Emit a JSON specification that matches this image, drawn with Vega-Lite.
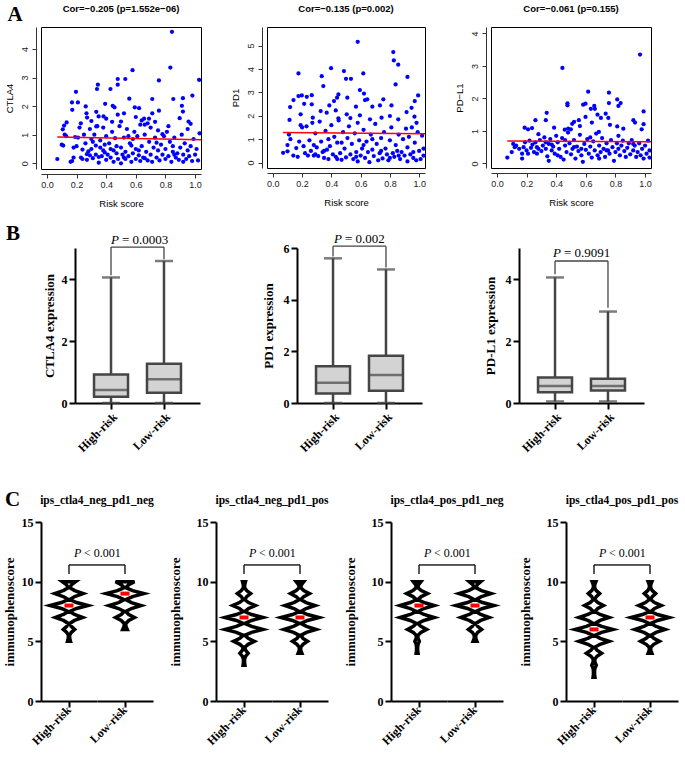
{
"$schema": "https://vega.github.io/schema/vega-lite/v6.json",
"padding": {"left": 3, "top": 3, "right": 0, "bottom": 0},
"config": {
 "view": {"stroke": null},
 "axis": {"grid": false, "domainColor": "black", "domainWidth": 2, "tickColor": "black", "tickWidth": 2, "tickSize": 6, "labelFont": "Liberation Serif", "labelFontWeight": "bold", "labelFontSize": 12, "labelColor": "black", "titleFont": "Liberation Serif", "titleFontWeight": "bold", "titleFontSize": 13, "titleColor": "black"},
 "header": {"labelOrient": "bottom", "labelAngle": -45, "labelAlign": "right", "labelBaseline": "middle", "labelFont": "Liberation Serif", "labelFontWeight": "bold", "labelFontSize": 12, "labelColor": "black", "labelPadding": 0, "titleOrient": "top", "titleFont": "Liberation Serif", "titleFontWeight": "bold", "titleFontSize": 11.5, "titleColor": "black", "titlePadding": 6}
},
"datasets": {
 "ctla4": [
  {"x":0.844,"y":4.6},{"x":0.578,"y":3.26},{"x":0.833,"y":3.35},{"x":0.478,"y":2.95},{"x":0.529,"y":2.95},{"x":0.756,"y":2.9},{"x":1.027,"y":2.92},{"x":0.344,"y":2.75},{"x":0.338,"y":2.6},{"x":0.429,"y":2.6},{"x":0.478,"y":2.75},{"x":0.196,"y":2.5},{"x":0.209,"y":2.13},{"x":0.169,"y":2.13},{"x":0.556,"y":2.26},{"x":0.711,"y":2.25},{"x":0.853,"y":2.25},{"x":0.982,"y":2.37},{"x":0.918,"y":2.28},{"x":0.393,"y":2.08},{"x":0.444,"y":2.01},{"x":0.456,"y":1.96},{"x":0.262,"y":1.99},{"x":0.171,"y":1.87},{"x":0.593,"y":1.96},{"x":0.622,"y":1.93},{"x":0.911,"y":2.01},{"x":0.918,"y":1.81},{"x":0.333,"y":1.8},{"x":0.267,"y":1.75},{"x":0.756,"y":1.84},{"x":0.711,"y":1.75},{"x":0.656,"y":1.56},{"x":0.689,"y":1.56},{"x":0.382,"y":1.64},{"x":0.4,"y":1.56},{"x":0.478,"y":1.7},{"x":0.5,"y":1.46},{"x":0.133,"y":1.43},{"x":0.116,"y":1.32},{"x":0.107,"y":1.19},{"x":0.229,"y":1.4},{"x":0.271,"y":1.6},{"x":0.349,"y":1.64},{"x":0.333,"y":1.29},{"x":0.956,"y":1.46},{"x":0.896,"y":1.58},{"x":0.52,"y":1.75},{"x":0.6,"y":1.62},{"x":0.64,"y":1.5},{"x":0.73,"y":1.45},{"x":0.66,"y":1.35},{"x":0.44,"y":1.45},{"x":0.3,"y":1.48},{"x":0.82,"y":1.3},{"x":0.97,"y":1.38},
  {"x":0.07,"y":0.15},{"x":0.1,"y":0.65},{"x":0.11,"y":0.62},{"x":0.12,"y":1.0},{"x":0.13,"y":0.95},{"x":0.16,"y":0.05},{"x":0.17,"y":0.08},{"x":0.18,"y":0.2},{"x":0.18,"y":0.55},{"x":0.19,"y":0.92},{"x":0.2,"y":0.6},{"x":0.21,"y":0.9},{"x":0.22,"y":1.25},{"x":0.23,"y":0.2},{"x":0.24,"y":0.48},{"x":0.24,"y":0.15},{"x":0.25,"y":1.0},{"x":0.26,"y":0.7},{"x":0.27,"y":0.12},{"x":0.28,"y":0.42},{"x":0.29,"y":1.2},{"x":0.29,"y":0.28},{"x":0.3,"y":0.85},{"x":0.3,"y":0.5},{"x":0.31,"y":0.18},{"x":0.32,"y":1.0},{"x":0.33,"y":0.3},{"x":0.33,"y":0.62},{"x":0.34,"y":1.3},{"x":0.35,"y":0.02},{"x":0.35,"y":0.22},{"x":0.36,"y":0.8},{"x":0.37,"y":0.25},{"x":0.38,"y":0.45},{"x":0.38,"y":1.25},{"x":0.39,"y":0.38},{"x":0.4,"y":0.12},{"x":0.4,"y":0.95},{"x":0.41,"y":0.3},{"x":0.42,"y":0.7},{"x":0.43,"y":0.2},{"x":0.44,"y":1.1},{"x":0.45,"y":0.45},{"x":0.45,"y":0.05},{"x":0.46,"y":0.88},{"x":0.47,"y":0.35},{"x":0.48,"y":0.15},{"x":0.49,"y":1.3},{"x":0.5,"y":0.0},{"x":0.5,"y":0.55},{"x":0.51,"y":0.3},{"x":0.52,"y":0.9},{"x":0.53,"y":0.15},{"x":0.53,"y":0.4},{"x":0.54,"y":1.2},{"x":0.55,"y":0.25},{"x":0.56,"y":0.7},{"x":0.57,"y":0.05},{"x":0.58,"y":0.85},{"x":0.58,"y":0.35},{"x":0.59,"y":1.1},{"x":0.6,"y":0.15},{"x":0.6,"y":0.5},{"x":0.61,"y":0.95},{"x":0.62,"y":0.28},{"x":0.63,"y":1.35},{"x":0.63,"y":0.08},{"x":0.64,"y":0.6},{"x":0.65,"y":0.2},{"x":0.66,"y":1.0},{"x":0.67,"y":0.4},{"x":0.68,"y":0.1},{"x":0.69,"y":0.75},{"x":0.7,"y":1.25},{"x":0.7,"y":0.3},{"x":0.71,"y":0.05},{"x":0.72,"y":0.55},{"x":0.73,"y":0.9},{"x":0.74,"y":0.2},{"x":0.75,"y":0.45},{"x":0.75,"y":1.15},{"x":0.76,"y":0.1},{"x":0.77,"y":0.65},{"x":0.78,"y":0.3},{"x":0.79,"y":0.95},{"x":0.8,"y":0.15},{"x":0.8,"y":0.5},{"x":0.81,"y":1.1},{"x":0.82,"y":0.25},{"x":0.83,"y":0.75},{"x":0.84,"y":0.05},{"x":0.85,"y":0.4},{"x":0.85,"y":0.6},{"x":0.86,"y":0.9},{"x":0.87,"y":0.2},{"x":0.88,"y":0.35},{"x":0.89,"y":0.12},{"x":0.9,"y":0.55},{"x":0.91,"y":1.0},{"x":0.92,"y":0.3},{"x":0.92,"y":0.05},{"x":0.93,"y":0.7},{"x":0.94,"y":0.15},{"x":0.95,"y":0.45},{"x":0.95,"y":1.2},{"x":0.96,"y":0.25},{"x":0.97,"y":0.6},{"x":0.98,"y":0.08},{"x":0.99,"y":0.85},{"x":1.0,"y":0.3},{"x":1.01,"y":0.5},{"x":1.02,"y":0.1},{"x":1.03,"y":1.05},{"x":0.39,"y":0.65},{"x":0.47,"y":0.6},{"x":0.55,"y":0.95},{"x":0.62,"y":0.45},{"x":0.68,"y":1.4},{"x":0.43,"y":0.5},{"x":0.31,"y":0.75},{"x":0.57,"y":0.62},{"x":0.74,"y":0.72},{"x":0.86,"y":0.3},{"x":0.27,"y":0.32},{"x":0.36,"y":0.55},{"x":0.52,"y":0.2},{"x":0.66,"y":0.18},{"x":0.78,"y":1.02}
 ],
 "pd1": [
  {"x":0.58,"y":5.16},{"x":0.823,"y":4.72},{"x":0.827,"y":4.36},{"x":0.857,"y":4.18},{"x":0.398,"y":4.03},{"x":0.175,"y":3.81},{"x":0.618,"y":3.81},{"x":0.486,"y":3.91},{"x":0.334,"y":3.69},{"x":0.5,"y":3.58},{"x":0.534,"y":3.58},{"x":0.92,"y":3.66},{"x":0.345,"y":3.27},{"x":0.839,"y":3.34},{"x":0.595,"y":3.1},{"x":0.623,"y":2.95},{"x":0.198,"y":2.87},{"x":0.175,"y":2.84},{"x":0.232,"y":2.81},{"x":0.266,"y":2.88},{"x":0.448,"y":2.91},{"x":0.993,"y":2.87},{"x":0.141,"y":2.67},{"x":0.755,"y":2.7},{"x":0.509,"y":2.77},{"x":0.439,"y":2.77},{"x":0.418,"y":2.63},{"x":0.63,"y":2.67},{"x":0.645,"y":2.7},{"x":0.97,"y":2.63},{"x":0.118,"y":2.37},{"x":0.266,"y":2.49},{"x":0.214,"y":2.51},{"x":0.386,"y":2.44},{"x":0.68,"y":2.39},{"x":0.732,"y":2.44},{"x":0.811,"y":2.44},{"x":0.568,"y":2.39},{"x":0.914,"y":2.16},{"x":0.948,"y":2.34},{"x":0.327,"y":2.2},{"x":0.368,"y":2.13},{"x":0.43,"y":2.23},{"x":0.505,"y":2.06},{"x":0.19,"y":2.06},{"x":0.8,"y":1.99},{"x":0.273,"y":1.92},{"x":0.595,"y":2.02},{"x":0.743,"y":1.92},{"x":0.968,"y":1.96},{"x":0.114,"y":1.82},{"x":0.448,"y":1.89},{"x":0.664,"y":1.85},{"x":0.857,"y":1.85},{"x":0.982,"y":1.7},
  {"x":0.07,"y":0.42},{"x":0.1,"y":0.75},{"x":0.1,"y":0.48},{"x":0.11,"y":1.2},{"x":0.12,"y":1.0},{"x":0.14,"y":0.3},{"x":0.16,"y":0.62},{"x":0.17,"y":0.25},{"x":0.18,"y":0.9},{"x":0.19,"y":1.6},{"x":0.2,"y":1.5},{"x":0.21,"y":0.7},{"x":0.22,"y":0.4},{"x":0.23,"y":1.55},{"x":0.24,"y":0.3},{"x":0.25,"y":0.95},{"x":0.26,"y":0.5},{"x":0.27,"y":1.7},{"x":0.28,"y":0.75},{"x":0.28,"y":0.3},{"x":0.29,"y":1.25},{"x":0.3,"y":0.65},{"x":0.31,"y":0.28},{"x":0.32,"y":1.75},{"x":0.33,"y":0.9},{"x":0.34,"y":0.45},{"x":0.35,"y":0.2},{"x":0.36,"y":1.35},{"x":0.37,"y":0.55},{"x":0.38,"y":1.0},{"x":0.38,"y":0.15},{"x":0.39,"y":0.7},{"x":0.4,"y":1.6},{"x":0.41,"y":0.35},{"x":0.42,"y":1.1},{"x":0.43,"y":0.25},{"x":0.44,"y":0.85},{"x":0.45,"y":1.8},{"x":0.46,"y":0.4},{"x":0.47,"y":0.12},{"x":0.48,"y":1.3},{"x":0.49,"y":0.6},{"x":0.5,"y":0.22},{"x":0.51,"y":1.05},{"x":0.52,"y":1.55},{"x":0.53,"y":0.35},{"x":0.54,"y":0.8},{"x":0.55,"y":0.15},{"x":0.56,"y":1.25},{"x":0.57,"y":0.45},{"x":0.58,"y":0.05},{"x":0.58,"y":1.7},{"x":0.59,"y":0.95},{"x":0.6,"y":0.3},{"x":0.61,"y":0.6},{"x":0.62,"y":1.4},{"x":0.63,"y":0.2},{"x":0.64,"y":0.9},{"x":0.65,"y":0.45},{"x":0.66,"y":0.02},{"x":0.67,"y":1.2},{"x":0.68,"y":0.55},{"x":0.69,"y":0.28},{"x":0.7,"y":1.65},{"x":0.71,"y":0.8},{"x":0.72,"y":0.1},{"x":0.73,"y":0.4},{"x":0.74,"y":1.05},{"x":0.75,"y":0.18},{"x":0.76,"y":1.3},{"x":0.77,"y":0.6},{"x":0.78,"y":0.35},{"x":0.79,"y":0.1},{"x":0.8,"y":0.95},{"x":0.81,"y":1.5},{"x":0.82,"y":0.4},{"x":0.83,"y":0.25},{"x":0.84,"y":0.75},{"x":0.85,"y":0.5},{"x":0.86,"y":1.2},{"x":0.87,"y":0.15},{"x":0.88,"y":0.45},{"x":0.89,"y":1.0},{"x":0.9,"y":0.3},{"x":0.91,"y":1.45},{"x":0.92,"y":0.05},{"x":0.92,"y":0.65},{"x":0.93,"y":1.1},{"x":0.94,"y":0.35},{"x":0.95,"y":1.5},{"x":0.96,"y":0.2},{"x":0.97,"y":0.85},{"x":0.98,"y":0.1},{"x":0.99,"y":1.3},{"x":1.0,"y":0.5},{"x":1.01,"y":0.15},{"x":1.02,"y":1.15},{"x":1.03,"y":0.3},{"x":1.03,"y":0.6},{"x":0.35,"y":0.5},{"x":0.47,"y":0.85},{"x":0.53,"y":1.9},{"x":0.62,"y":0.75},{"x":0.74,"y":0.5},{"x":0.86,"y":0.3},{"x":0.44,"y":0.15},{"x":0.29,"y":0.35},{"x":0.57,"y":0.25},{"x":0.68,"y":1.0},{"x":0.8,"y":0.2},{"x":0.96,"y":0.45}
 ],
 "pdl1": [
  {"x":0.966,"y":3.35},{"x":0.442,"y":2.94},{"x":0.616,"y":2.21},{"x":0.756,"y":2.18},{"x":0.476,"y":1.85},{"x":0.476,"y":1.79},{"x":0.582,"y":1.81},{"x":0.598,"y":1.84},{"x":0.756,"y":1.86},{"x":0.812,"y":1.97},{"x":0.835,"y":1.86},{"x":0.82,"y":1.77},{"x":0.634,"y":1.68},{"x":0.657,"y":1.77},{"x":0.661,"y":1.68},{"x":0.99,"y":1.6},{"x":0.336,"y":1.56},{"x":0.598,"y":1.43},{"x":0.679,"y":1.5},{"x":0.734,"y":1.53},{"x":0.752,"y":1.4},{"x":0.26,"y":1.33},{"x":0.33,"y":1.33},{"x":0.521,"y":1.28},{"x":0.508,"y":1.22},{"x":0.553,"y":1.33},{"x":0.641,"y":1.26},{"x":0.56,"y":1.15},{"x":0.702,"y":1.4},{"x":0.921,"y":1.33},{"x":0.932,"y":1.26},{"x":0.763,"y":1.19},{"x":0.99,"y":1.21},{"x":0.812,"y":1.14},{"x":0.187,"y":1.1},{"x":0.21,"y":1.05},{"x":0.237,"y":1.09},{"x":0.386,"y":1.1},{"x":0.481,"y":1.07},{"x":0.458,"y":1.04},{"x":0.499,"y":1.05},{"x":0.688,"y":0.97},{"x":0.853,"y":1.07},{"x":0.977,"y":1.05},
  {"x":0.07,"y":0.18},{"x":0.1,"y":0.35},{"x":0.11,"y":0.6},{"x":0.12,"y":0.5},{"x":0.13,"y":0.55},{"x":0.15,"y":0.45},{"x":0.17,"y":0.15},{"x":0.17,"y":0.3},{"x":0.18,"y":0.5},{"x":0.19,"y":0.65},{"x":0.2,"y":0.4},{"x":0.21,"y":0.3},{"x":0.22,"y":0.7},{"x":0.23,"y":0.48},{"x":0.24,"y":0.58},{"x":0.25,"y":0.35},{"x":0.26,"y":0.65},{"x":0.27,"y":0.3},{"x":0.28,"y":0.9},{"x":0.28,"y":0.45},{"x":0.29,"y":0.72},{"x":0.3,"y":0.38},{"x":0.31,"y":0.55},{"x":0.32,"y":0.8},{"x":0.33,"y":0.45},{"x":0.34,"y":0.22},{"x":0.35,"y":0.6},{"x":0.35,"y":0.08},{"x":0.36,"y":0.75},{"x":0.37,"y":0.4},{"x":0.38,"y":0.52},{"x":0.39,"y":0.3},{"x":0.4,"y":0.85},{"x":0.41,"y":0.65},{"x":0.42,"y":0.45},{"x":0.43,"y":0.2},{"x":0.44,"y":0.78},{"x":0.45,"y":0.12},{"x":0.46,"y":0.55},{"x":0.47,"y":0.35},{"x":0.48,"y":0.95},{"x":0.49,"y":0.62},{"x":0.5,"y":0.28},{"x":0.51,"y":0.45},{"x":0.52,"y":0.72},{"x":0.53,"y":0.15},{"x":0.54,"y":0.52},{"x":0.55,"y":0.38},{"x":0.56,"y":0.88},{"x":0.57,"y":0.25},{"x":0.58,"y":0.05},{"x":0.59,"y":0.6},{"x":0.6,"y":0.42},{"x":0.61,"y":0.75},{"x":0.62,"y":0.3},{"x":0.63,"y":0.52},{"x":0.64,"y":0.18},{"x":0.65,"y":0.68},{"x":0.66,"y":0.4},{"x":0.67,"y":0.92},{"x":0.68,"y":0.25},{"x":0.69,"y":0.55},{"x":0.7,"y":0.35},{"x":0.71,"y":0.78},{"x":0.72,"y":0.45},{"x":0.73,"y":0.2},{"x":0.74,"y":0.62},{"x":0.75,"y":0.4},{"x":0.76,"y":0.3},{"x":0.77,"y":0.72},{"x":0.78,"y":0.5},{"x":0.79,"y":0.08},{"x":0.8,"y":0.35},{"x":0.81,"y":0.62},{"x":0.82,"y":0.45},{"x":0.83,"y":0.25},{"x":0.84,"y":0.55},{"x":0.85,"y":0.7},{"x":0.86,"y":0.38},{"x":0.87,"y":0.2},{"x":0.88,"y":0.48},{"x":0.89,"y":0.62},{"x":0.9,"y":0.28},{"x":0.91,"y":0.72},{"x":0.92,"y":0.4},{"x":0.93,"y":0.55},{"x":0.94,"y":0.2},{"x":0.95,"y":0.35},{"x":0.96,"y":0.62},{"x":0.97,"y":0.25},{"x":0.98,"y":0.45},{"x":0.99,"y":0.15},{"x":1.0,"y":0.55},{"x":1.01,"y":0.3},{"x":1.02,"y":0.7},{"x":1.03,"y":0.18},{"x":1.03,"y":0.4},{"x":0.41,"y":0.25},{"x":0.52,"y":0.5},{"x":0.63,"y":0.8},{"x":0.74,"y":0.4},{"x":0.33,"y":0.65},{"x":0.46,"y":0.72},{"x":0.57,"y":0.45},{"x":0.69,"y":0.15},{"x":0.82,"y":0.85},{"x":0.92,"y":0.6},{"x":0.27,"y":0.5},{"x":0.37,"y":0.58}
 ],
 "c1": [
  {"g":"High-risk","s":5,"d":0.08},{"g":"High-risk","s":5.25,"d":0.04},{"g":"High-risk","s":5.5,"d":0.03},{"g":"High-risk","s":5.75,"d":0.12},{"g":"High-risk","s":6,"d":0.3},{"g":"High-risk","s":6.25,"d":0.12},{"g":"High-risk","s":6.5,"d":0.04},{"g":"High-risk","s":6.75,"d":0.29},{"g":"High-risk","s":7,"d":0.72},{"g":"High-risk","s":7.25,"d":0.29},{"g":"High-risk","s":7.5,"d":0.04},{"g":"High-risk","s":7.75,"d":0.4},{"g":"High-risk","s":8,"d":1.0},{"g":"High-risk","s":8.25,"d":0.4},{"g":"High-risk","s":8.5,"d":0.04},{"g":"High-risk","s":8.75,"d":0.3},{"g":"High-risk","s":9,"d":0.75},{"g":"High-risk","s":9.25,"d":0.3},{"g":"High-risk","s":9.5,"d":0.04},{"g":"High-risk","s":9.75,"d":0.14},{"g":"High-risk","s":10,"d":0.35},
  {"g":"Low-risk","s":6,"d":0.12},{"g":"Low-risk","s":6.25,"d":0.05},{"g":"Low-risk","s":6.5,"d":0.04},{"g":"Low-risk","s":6.75,"d":0.2},{"g":"Low-risk","s":7,"d":0.5},{"g":"Low-risk","s":7.25,"d":0.2},{"g":"Low-risk","s":7.5,"d":0.04},{"g":"Low-risk","s":7.75,"d":0.34},{"g":"Low-risk","s":8,"d":0.85},{"g":"Low-risk","s":8.25,"d":0.34},{"g":"Low-risk","s":8.5,"d":0.04},{"g":"Low-risk","s":8.75,"d":0.4},{"g":"Low-risk","s":9,"d":1.0},{"g":"Low-risk","s":9.25,"d":0.4},{"g":"Low-risk","s":9.5,"d":0.04},{"g":"Low-risk","s":9.75,"d":0.2},{"g":"Low-risk","s":10,"d":0.5},
  {"g":"High-risk","md":8,"q1":7,"q3":9},{"g":"Low-risk","md":9,"q1":8,"q3":9}
 ],
 "c2": [
  {"g":"High-risk","s":3,"d":0.05},{"g":"High-risk","s":3.25,"d":0.03},{"g":"High-risk","s":3.5,"d":0.03},{"g":"High-risk","s":3.75,"d":0.09},{"g":"High-risk","s":4,"d":0.22},{"g":"High-risk","s":4.25,"d":0.09},{"g":"High-risk","s":4.5,"d":0.04},{"g":"High-risk","s":4.75,"d":0.22},{"g":"High-risk","s":5,"d":0.55},{"g":"High-risk","s":5.25,"d":0.22},{"g":"High-risk","s":5.5,"d":0.04},{"g":"High-risk","s":5.75,"d":0.4},{"g":"High-risk","s":6,"d":1.0},{"g":"High-risk","s":6.25,"d":0.4},{"g":"High-risk","s":6.5,"d":0.04},{"g":"High-risk","s":6.75,"d":0.4},{"g":"High-risk","s":7,"d":1.0},{"g":"High-risk","s":7.25,"d":0.4},{"g":"High-risk","s":7.5,"d":0.04},{"g":"High-risk","s":7.75,"d":0.24},{"g":"High-risk","s":8,"d":0.6},{"g":"High-risk","s":8.25,"d":0.24},{"g":"High-risk","s":8.5,"d":0.04},{"g":"High-risk","s":8.75,"d":0.14},{"g":"High-risk","s":9,"d":0.35},{"g":"High-risk","s":9.25,"d":0.14},{"g":"High-risk","s":9.5,"d":0.03},{"g":"High-risk","s":9.75,"d":0.04},{"g":"High-risk","s":10,"d":0.08},
  {"g":"Low-risk","s":4,"d":0.1},{"g":"Low-risk","s":4.25,"d":0.04},{"g":"Low-risk","s":4.5,"d":0.04},{"g":"Low-risk","s":4.75,"d":0.16},{"g":"Low-risk","s":5,"d":0.4},{"g":"Low-risk","s":5.25,"d":0.16},{"g":"Low-risk","s":5.5,"d":0.04},{"g":"Low-risk","s":5.75,"d":0.34},{"g":"Low-risk","s":6,"d":0.85},{"g":"Low-risk","s":6.25,"d":0.34},{"g":"Low-risk","s":6.5,"d":0.04},{"g":"Low-risk","s":6.75,"d":0.4},{"g":"Low-risk","s":7,"d":1.0},{"g":"Low-risk","s":7.25,"d":0.4},{"g":"Low-risk","s":7.5,"d":0.04},{"g":"Low-risk","s":7.75,"d":0.32},{"g":"Low-risk","s":8,"d":0.8},{"g":"Low-risk","s":8.25,"d":0.32},{"g":"Low-risk","s":8.5,"d":0.04},{"g":"Low-risk","s":8.75,"d":0.2},{"g":"Low-risk","s":9,"d":0.5},{"g":"Low-risk","s":9.25,"d":0.2},{"g":"Low-risk","s":9.5,"d":0.04},{"g":"Low-risk","s":9.75,"d":0.08},{"g":"Low-risk","s":10,"d":0.2},
  {"g":"High-risk","md":7,"q1":6,"q3":7},{"g":"Low-risk","md":7,"q1":6,"q3":8}
 ],
 "c3": [
  {"g":"High-risk","s":4,"d":0.05},{"g":"High-risk","s":4.25,"d":0.03},{"g":"High-risk","s":4.5,"d":0.03},{"g":"High-risk","s":4.75,"d":0.05},{"g":"High-risk","s":5,"d":0.12},{"g":"High-risk","s":5.25,"d":0.05},{"g":"High-risk","s":5.5,"d":0.04},{"g":"High-risk","s":5.75,"d":0.2},{"g":"High-risk","s":6,"d":0.5},{"g":"High-risk","s":6.25,"d":0.2},{"g":"High-risk","s":6.5,"d":0.04},{"g":"High-risk","s":6.75,"d":0.36},{"g":"High-risk","s":7,"d":0.9},{"g":"High-risk","s":7.25,"d":0.36},{"g":"High-risk","s":7.5,"d":0.04},{"g":"High-risk","s":7.75,"d":0.36},{"g":"High-risk","s":8,"d":0.9},{"g":"High-risk","s":8.25,"d":0.36},{"g":"High-risk","s":8.5,"d":0.04},{"g":"High-risk","s":8.75,"d":0.22},{"g":"High-risk","s":9,"d":0.55},{"g":"High-risk","s":9.25,"d":0.22},{"g":"High-risk","s":9.5,"d":0.04},{"g":"High-risk","s":9.75,"d":0.08},{"g":"High-risk","s":10,"d":0.2},
  {"g":"Low-risk","s":5,"d":0.1},{"g":"Low-risk","s":5.25,"d":0.04},{"g":"Low-risk","s":5.5,"d":0.04},{"g":"Low-risk","s":5.75,"d":0.14},{"g":"Low-risk","s":6,"d":0.35},{"g":"Low-risk","s":6.25,"d":0.14},{"g":"Low-risk","s":6.5,"d":0.04},{"g":"Low-risk","s":6.75,"d":0.3},{"g":"Low-risk","s":7,"d":0.75},{"g":"Low-risk","s":7.25,"d":0.3},{"g":"Low-risk","s":7.5,"d":0.04},{"g":"Low-risk","s":7.75,"d":0.4},{"g":"Low-risk","s":8,"d":1.0},{"g":"Low-risk","s":8.25,"d":0.4},{"g":"Low-risk","s":8.5,"d":0.04},{"g":"Low-risk","s":8.75,"d":0.34},{"g":"Low-risk","s":9,"d":0.85},{"g":"Low-risk","s":9.25,"d":0.34},{"g":"Low-risk","s":9.5,"d":0.04},{"g":"Low-risk","s":9.75,"d":0.12},{"g":"Low-risk","s":10,"d":0.3},
  {"g":"High-risk","md":8,"q1":7,"q3":8},{"g":"Low-risk","md":8,"q1":7,"q3":9}
 ],
 "c4": [
  {"g":"High-risk","s":2,"d":0.05},{"g":"High-risk","s":2.25,"d":0.03},{"g":"High-risk","s":2.5,"d":0.03},{"g":"High-risk","s":2.75,"d":0.05},{"g":"High-risk","s":3,"d":0.12},{"g":"High-risk","s":3.25,"d":0.05},{"g":"High-risk","s":3.5,"d":0.04},{"g":"High-risk","s":3.75,"d":0.16},{"g":"High-risk","s":4,"d":0.4},{"g":"High-risk","s":4.25,"d":0.16},{"g":"High-risk","s":4.5,"d":0.04},{"g":"High-risk","s":4.75,"d":0.32},{"g":"High-risk","s":5,"d":0.8},{"g":"High-risk","s":5.25,"d":0.32},{"g":"High-risk","s":5.5,"d":0.04},{"g":"High-risk","s":5.75,"d":0.4},{"g":"High-risk","s":6,"d":1.0},{"g":"High-risk","s":6.25,"d":0.4},{"g":"High-risk","s":6.5,"d":0.04},{"g":"High-risk","s":6.75,"d":0.32},{"g":"High-risk","s":7,"d":0.8},{"g":"High-risk","s":7.25,"d":0.32},{"g":"High-risk","s":7.5,"d":0.04},{"g":"High-risk","s":7.75,"d":0.2},{"g":"High-risk","s":8,"d":0.5},{"g":"High-risk","s":8.25,"d":0.2},{"g":"High-risk","s":8.5,"d":0.04},{"g":"High-risk","s":8.75,"d":0.12},{"g":"High-risk","s":9,"d":0.3},{"g":"High-risk","s":9.25,"d":0.12},{"g":"High-risk","s":9.5,"d":0.03},{"g":"High-risk","s":9.75,"d":0.04},{"g":"High-risk","s":10,"d":0.1},
  {"g":"Low-risk","s":4,"d":0.1},{"g":"Low-risk","s":4.25,"d":0.04},{"g":"Low-risk","s":4.5,"d":0.04},{"g":"Low-risk","s":4.75,"d":0.2},{"g":"Low-risk","s":5,"d":0.5},{"g":"Low-risk","s":5.25,"d":0.2},{"g":"Low-risk","s":5.5,"d":0.04},{"g":"Low-risk","s":5.75,"d":0.32},{"g":"Low-risk","s":6,"d":0.8},{"g":"Low-risk","s":6.25,"d":0.32},{"g":"Low-risk","s":6.5,"d":0.04},{"g":"Low-risk","s":6.75,"d":0.4},{"g":"Low-risk","s":7,"d":1.0},{"g":"Low-risk","s":7.25,"d":0.4},{"g":"Low-risk","s":7.5,"d":0.04},{"g":"Low-risk","s":7.75,"d":0.24},{"g":"Low-risk","s":8,"d":0.6},{"g":"Low-risk","s":8.25,"d":0.24},{"g":"Low-risk","s":8.5,"d":0.04},{"g":"Low-risk","s":8.75,"d":0.12},{"g":"Low-risk","s":9,"d":0.3},{"g":"Low-risk","s":9.25,"d":0.12},{"g":"Low-risk","s":9.5,"d":0.03},{"g":"Low-risk","s":9.75,"d":0.04},{"g":"Low-risk","s":10,"d":0.1},
  {"g":"High-risk","md":6,"q1":5,"q3":7},{"g":"Low-risk","md":7,"q1":6,"q3":7}
 ]
},
"spacing": 15,
"vconcat": [
 {
  "title": {"text": "A", "anchor": "start", "frame": "bounds", "font": "Liberation Serif", "fontSize": 21, "fontWeight": "bold", "color": "black", "offset": -22, "dx": 4},
  "spacing": 24,
  "hconcat": [
   {"width": 160, "height": 142, "view": {"stroke": "black", "strokeWidth": 1},
    "title": {"text": "Cor=−0.205 (p=1.552e−06)", "font": "Liberation Sans", "fontSize": 9.5, "fontWeight": "bold", "color": "black", "offset": 14},
    "encoding": {
     "x": {"field": "x", "type": "quantitative", "scale": {"domain": [-0.04, 1.04], "nice": false, "zero": false}, "axis": {"title": "Risk score", "values": [0, 0.2, 0.4, 0.6, 0.8, 1], "format": ".1f", "labelOverlap": false, "labelSeparation": 0, "offset": 5, "tickSize": 4, "tickWidth": 1, "domainWidth": 1, "domainColor": "#333", "tickColor": "#333", "labelFont": "Liberation Sans", "labelFontWeight": "normal", "labelFontSize": 9, "labelColor": "#222", "titleFont": "Liberation Sans", "titleFontWeight": "normal", "titleFontSize": 9.5, "titlePadding": 9}},
     "y": {"field": "y", "type": "quantitative", "scale": {"domain": [-0.2, 4.77], "nice": false, "zero": false}, "axis": {"title": "CTLA4", "values": [0, 1, 2, 3, 4], "labelOverlap": false, "labelSeparation": 0, "labelAngle": -90, "labelAlign": "center", "labelBaseline": "bottom", "labelPadding": 3, "offset": 5, "tickSize": 4, "tickWidth": 1, "domainWidth": 1, "domainColor": "#333", "tickColor": "#333", "labelFont": "Liberation Sans", "labelFontWeight": "normal", "labelFontSize": 9, "labelColor": "#222", "titleFont": "Liberation Sans", "titleFontWeight": "normal", "titleFontSize": 9.5, "titlePadding": 6}}
    },
    "layer": [
     {"data": {"name": "ctla4"}, "mark": {"type": "circle", "size": 18, "color": "#0000ff", "opacity": 1, "clip": true}},
     {"data": {"values": [{"x": 0.07, "y": 0.92}, {"x": 1.04, "y": 0.82}]}, "mark": {"type": "line", "color": "#ff0000", "strokeWidth": 1.5}}
    ]},
   {"width": 158, "height": 141, "view": {"stroke": "black", "strokeWidth": 1},
    "title": {"text": "Cor=−0.135 (p=0.002)", "font": "Liberation Sans", "fontSize": 9.5, "fontWeight": "bold", "color": "black", "offset": 14},
    "encoding": {
     "x": {"field": "x", "type": "quantitative", "scale": {"domain": [-0.04, 1.04], "nice": false, "zero": false}, "axis": {"title": "Risk score", "values": [0, 0.2, 0.4, 0.6, 0.8, 1], "format": ".1f", "labelOverlap": false, "labelSeparation": 0, "offset": 5, "tickSize": 4, "tickWidth": 1, "domainWidth": 1, "domainColor": "#333", "tickColor": "#333", "labelFont": "Liberation Sans", "labelFontWeight": "normal", "labelFontSize": 9, "labelColor": "#222", "titleFont": "Liberation Sans", "titleFontWeight": "normal", "titleFontSize": 9.5, "titlePadding": 9}},
     "y": {"field": "y", "type": "quantitative", "scale": {"domain": [-0.23, 5.79], "nice": false, "zero": false}, "axis": {"title": "PD1", "values": [0, 1, 2, 3, 4, 5], "labelOverlap": false, "labelSeparation": 0, "labelAngle": -90, "labelAlign": "center", "labelBaseline": "bottom", "labelPadding": 3, "offset": 5, "tickSize": 4, "tickWidth": 1, "domainWidth": 1, "domainColor": "#333", "tickColor": "#333", "labelFont": "Liberation Sans", "labelFontWeight": "normal", "labelFontSize": 9, "labelColor": "#222", "titleFont": "Liberation Sans", "titleFontWeight": "normal", "titleFontSize": 9.5, "titlePadding": 6}}
    },
    "layer": [
     {"data": {"name": "pd1"}, "mark": {"type": "circle", "size": 18, "color": "#0000ff", "opacity": 1, "clip": true}},
     {"data": {"values": [{"x": 0.07, "y": 1.29}, {"x": 1.04, "y": 1.23}]}, "mark": {"type": "line", "color": "#ff0000", "strokeWidth": 1.5}}
    ]},
   {"width": 160, "height": 141, "view": {"stroke": "black", "strokeWidth": 1},
    "title": {"text": "Cor=−0.061 (p=0.155)", "font": "Liberation Sans", "fontSize": 9.5, "fontWeight": "bold", "color": "black", "offset": 14},
    "encoding": {
     "x": {"field": "x", "type": "quantitative", "scale": {"domain": [-0.04, 1.04], "nice": false, "zero": false}, "axis": {"title": "Risk score", "values": [0, 0.2, 0.4, 0.6, 0.8, 1], "format": ".1f", "labelOverlap": false, "labelSeparation": 0, "offset": 5, "tickSize": 4, "tickWidth": 1, "domainWidth": 1, "domainColor": "#333", "tickColor": "#333", "labelFont": "Liberation Sans", "labelFontWeight": "normal", "labelFontSize": 9, "labelColor": "#222", "titleFont": "Liberation Sans", "titleFontWeight": "normal", "titleFontSize": 9.5, "titlePadding": 9}},
     "y": {"field": "y", "type": "quantitative", "scale": {"domain": [-0.14, 4.2], "nice": false, "zero": false}, "axis": {"title": "PD−L1", "values": [0, 1, 2, 3, 4], "labelOverlap": false, "labelSeparation": 0, "labelAngle": -90, "labelAlign": "center", "labelBaseline": "bottom", "labelPadding": 3, "offset": 5, "tickSize": 4, "tickWidth": 1, "domainWidth": 1, "domainColor": "#333", "tickColor": "#333", "labelFont": "Liberation Sans", "labelFontWeight": "normal", "labelFontSize": 9, "labelColor": "#222", "titleFont": "Liberation Sans", "titleFontWeight": "normal", "titleFontSize": 9.5, "titlePadding": 6}}
    },
    "layer": [
     {"data": {"name": "pdl1"}, "mark": {"type": "circle", "size": 18, "color": "#0000ff", "opacity": 1, "clip": true}},
     {"data": {"values": [{"x": 0.07, "y": 0.69}, {"x": 1.04, "y": 0.67}]}, "mark": {"type": "line", "color": "#ff0000", "strokeWidth": 1.5}}
    ]}
  ]
 },
 {
  "spacing": 34,
  "vconcat": [
   {
    "spacing": 1,
    "hconcat": [
     {"width": 1, "height": 155, "data": {"values": []}, "mark": "point", "encoding": {},
      "title": {"text": "B", "anchor": "start", "frame": "group", "font": "Liberation Serif", "fontSize": 21, "fontWeight": "bold", "color": "black", "offset": 4, "dx": -35}},
     {
      "spacing": 62,
      "hconcat": [
       {"width": 125, "height": 155,
        "data": {"values": [{"g": "High-risk", "mn": 0, "q1": 0.2, "md": 0.42, "q3": 0.92, "mx": 4.05}, {"g": "Low-risk", "mn": 0, "q1": 0.33, "md": 0.77, "q3": 1.27, "mx": 4.58}]},
        "encoding": {"x": {"field": "g", "type": "nominal", "scale": {"type": "point", "padding": 0.68}, "axis": {"title": null, "labelAngle": -45, "labelAlign": "right", "labelBaseline": "top", "labelPadding": 2}}},
        "layer": [
         {"mark": {"type": "rule", "color": "#454545", "strokeWidth": 2.5}, "encoding": {"y": {"field": "mn", "type": "quantitative", "scale": {"domain": [0, 5], "nice": false}, "axis": {"title": "CTLA4 expression", "values": [0, 1, 2, 3, 4, 5], "titlePadding": 5}}, "y2": {"field": "mx"}}},
         {"mark": {"type": "tick", "color": "#454545", "thickness": 2.5, "size": 18}, "encoding": {"y": {"field": "mx", "type": "quantitative"}}},
         {"mark": {"type": "tick", "color": "#454545", "thickness": 2.5, "size": 18}, "encoding": {"y": {"field": "mn", "type": "quantitative"}}},
         {"mark": {"type": "bar", "size": 34, "fill": "#d3d3d3", "stroke": "#454545", "strokeWidth": 2.5}, "encoding": {"y": {"field": "q1", "type": "quantitative"}, "y2": {"field": "q3"}}},
         {"mark": {"type": "tick", "color": "#454545", "thickness": 2.5, "size": 34}, "encoding": {"y": {"field": "md", "type": "quantitative"}}},
         {"data": {"values": [{}]}, "mark": {"type": "rule", "color": "#454545", "strokeWidth": 1.3}, "encoding": {"x": {"datum": "High-risk"}, "x2": {"datum": "Low-risk"}, "y": {"datum": 5.03}}},
         {"data": {"values": [{}]}, "mark": {"type": "rule", "color": "#454545", "strokeWidth": 1.3}, "encoding": {"x": {"datum": "High-risk"}, "y": {"datum": 4.12}, "y2": {"datum": 5.03}}},
         {"data": {"values": [{}]}, "mark": {"type": "rule", "color": "#454545", "strokeWidth": 1.3}, "encoding": {"x": {"datum": "Low-risk"}, "y": {"datum": 4.64}, "y2": {"datum": 5.03}}},
         {"data": {"values": [{}]}, "mark": {"type": "text", "text": "P", "font": "Liberation Serif", "fontStyle": "italic", "fontSize": 13, "align": "left", "baseline": "alphabetic", "dx": 0}, "encoding": {"x": {"datum": "High-risk"}, "y": {"datum": 5.13}}},
         {"data": {"values": [{}]}, "mark": {"type": "text", "text": "= 0.0003", "font": "Liberation Serif", "fontSize": 13, "align": "left", "baseline": "alphabetic", "dx": 11}, "encoding": {"x": {"datum": "High-risk"}, "y": {"datum": 5.13}}}
        ]},
       {"width": 125, "height": 155,
        "data": {"values": [{"g": "High-risk", "mn": 0, "q1": 0.37, "md": 0.78, "q3": 1.42, "mx": 5.6}, {"g": "Low-risk", "mn": 0, "q1": 0.47, "md": 1.08, "q3": 1.83, "mx": 5.17}]},
        "encoding": {"x": {"field": "g", "type": "nominal", "scale": {"type": "point", "padding": 0.68}, "axis": {"title": null, "labelAngle": -45, "labelAlign": "right", "labelBaseline": "top", "labelPadding": 2}}},
        "layer": [
         {"mark": {"type": "rule", "color": "#454545", "strokeWidth": 2.5}, "encoding": {"y": {"field": "mn", "type": "quantitative", "scale": {"domain": [0, 6], "nice": false}, "axis": {"title": "PD1 expression", "values": [0, 2, 4, 6], "titlePadding": 8}}, "y2": {"field": "mx"}}},
         {"mark": {"type": "tick", "color": "#454545", "thickness": 2.5, "size": 18}, "encoding": {"y": {"field": "mx", "type": "quantitative"}}},
         {"mark": {"type": "tick", "color": "#454545", "thickness": 2.5, "size": 18}, "encoding": {"y": {"field": "mn", "type": "quantitative"}}},
         {"mark": {"type": "bar", "size": 34, "fill": "#d3d3d3", "stroke": "#454545", "strokeWidth": 2.5}, "encoding": {"y": {"field": "q1", "type": "quantitative"}, "y2": {"field": "q3"}}},
         {"mark": {"type": "tick", "color": "#454545", "thickness": 2.5, "size": 34}, "encoding": {"y": {"field": "md", "type": "quantitative"}}},
         {"data": {"values": [{}]}, "mark": {"type": "rule", "color": "#454545", "strokeWidth": 1.3}, "encoding": {"x": {"datum": "High-risk"}, "x2": {"datum": "Low-risk"}, "y": {"datum": 6.07}}},
         {"data": {"values": [{}]}, "mark": {"type": "rule", "color": "#454545", "strokeWidth": 1.3}, "encoding": {"x": {"datum": "High-risk"}, "y": {"datum": 5.67}, "y2": {"datum": 6.07}}},
         {"data": {"values": [{}]}, "mark": {"type": "rule", "color": "#454545", "strokeWidth": 1.3}, "encoding": {"x": {"datum": "Low-risk"}, "y": {"datum": 5.25}, "y2": {"datum": 6.07}}},
         {"data": {"values": [{}]}, "mark": {"type": "text", "text": "P", "font": "Liberation Serif", "fontStyle": "italic", "fontSize": 13, "align": "left", "baseline": "alphabetic", "dx": 1}, "encoding": {"x": {"datum": "High-risk"}, "y": {"datum": 6.18}}},
         {"data": {"values": [{}]}, "mark": {"type": "text", "text": "= 0.002", "font": "Liberation Serif", "fontSize": 13, "align": "left", "baseline": "alphabetic", "dx": 12}, "encoding": {"x": {"datum": "High-risk"}, "y": {"datum": 6.18}}}
        ]},
       {"width": 125, "height": 155,
        "data": {"values": [{"g": "High-risk", "mn": 0.05, "q1": 0.35, "md": 0.55, "q3": 0.82, "mx": 4.05}, {"g": "Low-risk", "mn": 0.05, "q1": 0.4, "md": 0.55, "q3": 0.78, "mx": 2.95}]},
        "encoding": {"x": {"field": "g", "type": "nominal", "scale": {"type": "point", "padding": 0.68}, "axis": {"title": null, "labelAngle": -45, "labelAlign": "right", "labelBaseline": "top", "labelPadding": 2}}},
        "layer": [
         {"mark": {"type": "rule", "color": "#454545", "strokeWidth": 2.5}, "encoding": {"y": {"field": "mn", "type": "quantitative", "scale": {"domain": [0, 5], "nice": false}, "axis": {"title": "PD-L1 expression", "values": [0, 1, 2, 3, 4, 5], "titlePadding": 8}}, "y2": {"field": "mx"}}},
         {"mark": {"type": "tick", "color": "#454545", "thickness": 2.5, "size": 18}, "encoding": {"y": {"field": "mx", "type": "quantitative"}}},
         {"mark": {"type": "tick", "color": "#454545", "thickness": 2.5, "size": 18}, "encoding": {"y": {"field": "mn", "type": "quantitative"}}},
         {"mark": {"type": "bar", "size": 34, "fill": "#d3d3d3", "stroke": "#454545", "strokeWidth": 2.5}, "encoding": {"y": {"field": "q1", "type": "quantitative"}, "y2": {"field": "q3"}}},
         {"mark": {"type": "tick", "color": "#454545", "thickness": 2.5, "size": 34}, "encoding": {"y": {"field": "md", "type": "quantitative"}}},
         {"data": {"values": [{}]}, "mark": {"type": "rule", "color": "#454545", "strokeWidth": 1.3}, "encoding": {"x": {"datum": "High-risk"}, "x2": {"datum": "Low-risk"}, "y": {"datum": 4.58}}},
         {"data": {"values": [{}]}, "mark": {"type": "rule", "color": "#454545", "strokeWidth": 1.3}, "encoding": {"x": {"datum": "High-risk"}, "y": {"datum": 4.15}, "y2": {"datum": 4.58}}},
         {"data": {"values": [{}]}, "mark": {"type": "rule", "color": "#454545", "strokeWidth": 1.3}, "encoding": {"x": {"datum": "Low-risk"}, "y": {"datum": 3.07}, "y2": {"datum": 4.58}}},
         {"data": {"values": [{}]}, "mark": {"type": "text", "text": "P", "font": "Liberation Serif", "fontStyle": "italic", "fontSize": 13, "align": "left", "baseline": "alphabetic", "dx": -2}, "encoding": {"x": {"datum": "High-risk"}, "y": {"datum": 4.7}}},
         {"data": {"values": [{}]}, "mark": {"type": "text", "text": "= 0.9091", "font": "Liberation Serif", "fontSize": 13, "align": "left", "baseline": "alphabetic", "dx": 9}, "encoding": {"x": {"datum": "High-risk"}, "y": {"datum": 4.7}}}
        ]}
      ]
     }
    ]
   },
   {
    "title": {"text": "C", "anchor": "start", "frame": "bounds", "font": "Liberation Serif", "fontSize": 21, "fontWeight": "bold", "color": "black", "offset": -15, "dx": 2},
    "spacing": 15,
    "hconcat": [
     {"data": {"name": "c1"}, "bounds": "flush",
      "facet": {"column": {"field": "g", "type": "nominal", "title": "ips_ctla4_neg_pd1_neg"}},
      "spacing": {"column": 0},
      "spec": {"width": 56, "height": 179,
       "layer": [
        {"transform": [{"filter": "isValid(datum.d)"}], "mark": {"type": "area", "orient": "horizontal", "fill": "white", "stroke": "black", "strokeWidth": 3.5, "interpolate": "linear"},
         "encoding": {"y": {"field": "s", "type": "quantitative", "scale": {"domain": [0, 15], "nice": false}, "axis": {"title": "immunophenoscore", "values": [0, 5, 10, 15], "titlePadding": 5}},
                      "x": {"field": "d", "type": "quantitative", "stack": "center", "scale": {"domain": [-0.24, 1.24], "nice": false, "zero": false}, "axis": {"title": null, "values": [0.5], "labels": false}}}},
        {"transform": [{"filter": "isValid(datum.md)"}], "mark": {"type": "rule", "color": "white", "strokeWidth": 1.5, "strokeDash": [2, 1.5]}, "encoding": {"x": {"datum": 0.32}, "x2": {"datum": 0.68}, "y": {"field": "q1", "type": "quantitative"}}},
        {"transform": [{"filter": "isValid(datum.md)"}], "mark": {"type": "rule", "color": "white", "strokeWidth": 1.5, "strokeDash": [2, 1.5]}, "encoding": {"x": {"datum": 0.32}, "x2": {"datum": 0.68}, "y": {"field": "q3", "type": "quantitative"}}},
        {"transform": [{"filter": "isValid(datum.md)"}], "mark": {"type": "rule", "color": "#ff0000", "strokeWidth": 4}, "encoding": {"x": {"datum": 0.38}, "x2": {"datum": 0.62}, "y": {"field": "md", "type": "quantitative"}}},
        {"transform": [{"filter": "isValid(datum.md)"}], "mark": {"type": "rule", "color": "black", "strokeWidth": 1.3}, "encoding": {"x": {"datum": 0.5}, "y": {"datum": 10.65}, "y2": {"datum": 11.4}}},
        {"transform": [{"filter": "isValid(datum.md) && datum.g == 'High-risk'"}], "mark": {"type": "rule", "color": "black", "strokeWidth": 1.3}, "encoding": {"x": {"datum": 0.5}, "x2": {"datum": 1.24}, "y": {"datum": 11.4}}},
        {"transform": [{"filter": "isValid(datum.md) && datum.g == 'Low-risk'"}], "mark": {"type": "rule", "color": "black", "strokeWidth": 1.3}, "encoding": {"x": {"datum": -0.24}, "x2": {"datum": 0.5}, "y": {"datum": 11.4}}},
        {"transform": [{"filter": "isValid(datum.md) && datum.g == 'High-risk'"}], "mark": {"type": "text", "text": "P", "font": "Liberation Serif", "fontStyle": "italic", "fontSize": 12, "align": "left", "baseline": "alphabetic", "dx": -23}, "encoding": {"x": {"datum": 1.24}, "y": {"datum": 12.1}}},
        {"transform": [{"filter": "isValid(datum.md) && datum.g == 'High-risk'"}], "mark": {"type": "text", "text": "< 0.001", "font": "Liberation Serif", "fontSize": 12, "align": "left", "baseline": "alphabetic", "dx": -13}, "encoding": {"x": {"datum": 1.24}, "y": {"datum": 12.1}}}
       ]}},
     {"data": {"name": "c2"}, "bounds": "flush",
      "facet": {"column": {"field": "g", "type": "nominal", "title": "ips_ctla4_neg_pd1_pos"}},
      "spacing": {"column": 0},
      "spec": {"width": 56, "height": 179,
       "layer": [
        {"transform": [{"filter": "isValid(datum.d)"}], "mark": {"type": "area", "orient": "horizontal", "fill": "white", "stroke": "black", "strokeWidth": 3.5, "interpolate": "linear"},
         "encoding": {"y": {"field": "s", "type": "quantitative", "scale": {"domain": [0, 15], "nice": false}, "axis": {"title": "immunophenoscore", "values": [0, 5, 10, 15], "titlePadding": 14}},
                      "x": {"field": "d", "type": "quantitative", "stack": "center", "scale": {"domain": [-0.24, 1.24], "nice": false, "zero": false}, "axis": {"title": null, "values": [0.5], "labels": false}}}},
        {"transform": [{"filter": "isValid(datum.md)"}], "mark": {"type": "rule", "color": "white", "strokeWidth": 1.5, "strokeDash": [2, 1.5]}, "encoding": {"x": {"datum": 0.32}, "x2": {"datum": 0.68}, "y": {"field": "q1", "type": "quantitative"}}},
        {"transform": [{"filter": "isValid(datum.md)"}], "mark": {"type": "rule", "color": "white", "strokeWidth": 1.5, "strokeDash": [2, 1.5]}, "encoding": {"x": {"datum": 0.32}, "x2": {"datum": 0.68}, "y": {"field": "q3", "type": "quantitative"}}},
        {"transform": [{"filter": "isValid(datum.md)"}], "mark": {"type": "rule", "color": "#ff0000", "strokeWidth": 4}, "encoding": {"x": {"datum": 0.38}, "x2": {"datum": 0.62}, "y": {"field": "md", "type": "quantitative"}}},
        {"transform": [{"filter": "isValid(datum.md)"}], "mark": {"type": "rule", "color": "black", "strokeWidth": 1.3}, "encoding": {"x": {"datum": 0.5}, "y": {"datum": 10.65}, "y2": {"datum": 11.4}}},
        {"transform": [{"filter": "isValid(datum.md) && datum.g == 'High-risk'"}], "mark": {"type": "rule", "color": "black", "strokeWidth": 1.3}, "encoding": {"x": {"datum": 0.5}, "x2": {"datum": 1.24}, "y": {"datum": 11.4}}},
        {"transform": [{"filter": "isValid(datum.md) && datum.g == 'Low-risk'"}], "mark": {"type": "rule", "color": "black", "strokeWidth": 1.3}, "encoding": {"x": {"datum": -0.24}, "x2": {"datum": 0.5}, "y": {"datum": 11.4}}},
        {"transform": [{"filter": "isValid(datum.md) && datum.g == 'High-risk'"}], "mark": {"type": "text", "text": "P", "font": "Liberation Serif", "fontStyle": "italic", "fontSize": 12, "align": "left", "baseline": "alphabetic", "dx": -23}, "encoding": {"x": {"datum": 1.24}, "y": {"datum": 12.1}}},
        {"transform": [{"filter": "isValid(datum.md) && datum.g == 'High-risk'"}], "mark": {"type": "text", "text": "< 0.001", "font": "Liberation Serif", "fontSize": 12, "align": "left", "baseline": "alphabetic", "dx": -13}, "encoding": {"x": {"datum": 1.24}, "y": {"datum": 12.1}}}
       ]}},
     {"data": {"name": "c3"}, "bounds": "flush",
      "facet": {"column": {"field": "g", "type": "nominal", "title": "ips_ctla4_pos_pd1_neg"}},
      "spacing": {"column": 0},
      "spec": {"width": 56, "height": 179,
       "layer": [
        {"transform": [{"filter": "isValid(datum.d)"}], "mark": {"type": "area", "orient": "horizontal", "fill": "white", "stroke": "black", "strokeWidth": 3.5, "interpolate": "linear"},
         "encoding": {"y": {"field": "s", "type": "quantitative", "scale": {"domain": [0, 15], "nice": false}, "axis": {"title": "immunophenoscore", "values": [0, 5, 10, 15], "titlePadding": 14}},
                      "x": {"field": "d", "type": "quantitative", "stack": "center", "scale": {"domain": [-0.24, 1.24], "nice": false, "zero": false}, "axis": {"title": null, "values": [0.5], "labels": false}}}},
        {"transform": [{"filter": "isValid(datum.md)"}], "mark": {"type": "rule", "color": "white", "strokeWidth": 1.5, "strokeDash": [2, 1.5]}, "encoding": {"x": {"datum": 0.32}, "x2": {"datum": 0.68}, "y": {"field": "q1", "type": "quantitative"}}},
        {"transform": [{"filter": "isValid(datum.md)"}], "mark": {"type": "rule", "color": "white", "strokeWidth": 1.5, "strokeDash": [2, 1.5]}, "encoding": {"x": {"datum": 0.32}, "x2": {"datum": 0.68}, "y": {"field": "q3", "type": "quantitative"}}},
        {"transform": [{"filter": "isValid(datum.md)"}], "mark": {"type": "rule", "color": "#ff0000", "strokeWidth": 4}, "encoding": {"x": {"datum": 0.38}, "x2": {"datum": 0.62}, "y": {"field": "md", "type": "quantitative"}}},
        {"transform": [{"filter": "isValid(datum.md)"}], "mark": {"type": "rule", "color": "black", "strokeWidth": 1.3}, "encoding": {"x": {"datum": 0.5}, "y": {"datum": 10.65}, "y2": {"datum": 11.4}}},
        {"transform": [{"filter": "isValid(datum.md) && datum.g == 'High-risk'"}], "mark": {"type": "rule", "color": "black", "strokeWidth": 1.3}, "encoding": {"x": {"datum": 0.5}, "x2": {"datum": 1.24}, "y": {"datum": 11.4}}},
        {"transform": [{"filter": "isValid(datum.md) && datum.g == 'Low-risk'"}], "mark": {"type": "rule", "color": "black", "strokeWidth": 1.3}, "encoding": {"x": {"datum": -0.24}, "x2": {"datum": 0.5}, "y": {"datum": 11.4}}},
        {"transform": [{"filter": "isValid(datum.md) && datum.g == 'High-risk'"}], "mark": {"type": "text", "text": "P", "font": "Liberation Serif", "fontStyle": "italic", "fontSize": 12, "align": "left", "baseline": "alphabetic", "dx": -23}, "encoding": {"x": {"datum": 1.24}, "y": {"datum": 12.1}}},
        {"transform": [{"filter": "isValid(datum.md) && datum.g == 'High-risk'"}], "mark": {"type": "text", "text": "< 0.001", "font": "Liberation Serif", "fontSize": 12, "align": "left", "baseline": "alphabetic", "dx": -13}, "encoding": {"x": {"datum": 1.24}, "y": {"datum": 12.1}}}
       ]}},
     {"data": {"name": "c4"}, "bounds": "flush",
      "facet": {"column": {"field": "g", "type": "nominal", "title": "ips_ctla4_pos_pd1_pos"}},
      "spacing": {"column": 0},
      "spec": {"width": 56, "height": 179,
       "layer": [
        {"transform": [{"filter": "isValid(datum.d)"}], "mark": {"type": "area", "orient": "horizontal", "fill": "white", "stroke": "black", "strokeWidth": 3.5, "interpolate": "linear"},
         "encoding": {"y": {"field": "s", "type": "quantitative", "scale": {"domain": [0, 15], "nice": false}, "axis": {"title": "immunophenoscore", "values": [0, 5, 10, 15], "titlePadding": 14}},
                      "x": {"field": "d", "type": "quantitative", "stack": "center", "scale": {"domain": [-0.24, 1.24], "nice": false, "zero": false}, "axis": {"title": null, "values": [0.5], "labels": false}}}},
        {"transform": [{"filter": "isValid(datum.md)"}], "mark": {"type": "rule", "color": "white", "strokeWidth": 1.5, "strokeDash": [2, 1.5]}, "encoding": {"x": {"datum": 0.32}, "x2": {"datum": 0.68}, "y": {"field": "q1", "type": "quantitative"}}},
        {"transform": [{"filter": "isValid(datum.md)"}], "mark": {"type": "rule", "color": "white", "strokeWidth": 1.5, "strokeDash": [2, 1.5]}, "encoding": {"x": {"datum": 0.32}, "x2": {"datum": 0.68}, "y": {"field": "q3", "type": "quantitative"}}},
        {"transform": [{"filter": "isValid(datum.md)"}], "mark": {"type": "rule", "color": "#ff0000", "strokeWidth": 4}, "encoding": {"x": {"datum": 0.38}, "x2": {"datum": 0.62}, "y": {"field": "md", "type": "quantitative"}}},
        {"transform": [{"filter": "isValid(datum.md)"}], "mark": {"type": "rule", "color": "black", "strokeWidth": 1.3}, "encoding": {"x": {"datum": 0.5}, "y": {"datum": 10.65}, "y2": {"datum": 11.4}}},
        {"transform": [{"filter": "isValid(datum.md) && datum.g == 'High-risk'"}], "mark": {"type": "rule", "color": "black", "strokeWidth": 1.3}, "encoding": {"x": {"datum": 0.5}, "x2": {"datum": 1.24}, "y": {"datum": 11.4}}},
        {"transform": [{"filter": "isValid(datum.md) && datum.g == 'Low-risk'"}], "mark": {"type": "rule", "color": "black", "strokeWidth": 1.3}, "encoding": {"x": {"datum": -0.24}, "x2": {"datum": 0.5}, "y": {"datum": 11.4}}},
        {"transform": [{"filter": "isValid(datum.md) && datum.g == 'High-risk'"}], "mark": {"type": "text", "text": "P", "font": "Liberation Serif", "fontStyle": "italic", "fontSize": 12, "align": "left", "baseline": "alphabetic", "dx": -23}, "encoding": {"x": {"datum": 1.24}, "y": {"datum": 12.1}}},
        {"transform": [{"filter": "isValid(datum.md) && datum.g == 'High-risk'"}], "mark": {"type": "text", "text": "< 0.001", "font": "Liberation Serif", "fontSize": 12, "align": "left", "baseline": "alphabetic", "dx": -13}, "encoding": {"x": {"datum": 1.24}, "y": {"datum": 12.1}}}
       ]}}
    ]
   }
  ]
 }
]
}
